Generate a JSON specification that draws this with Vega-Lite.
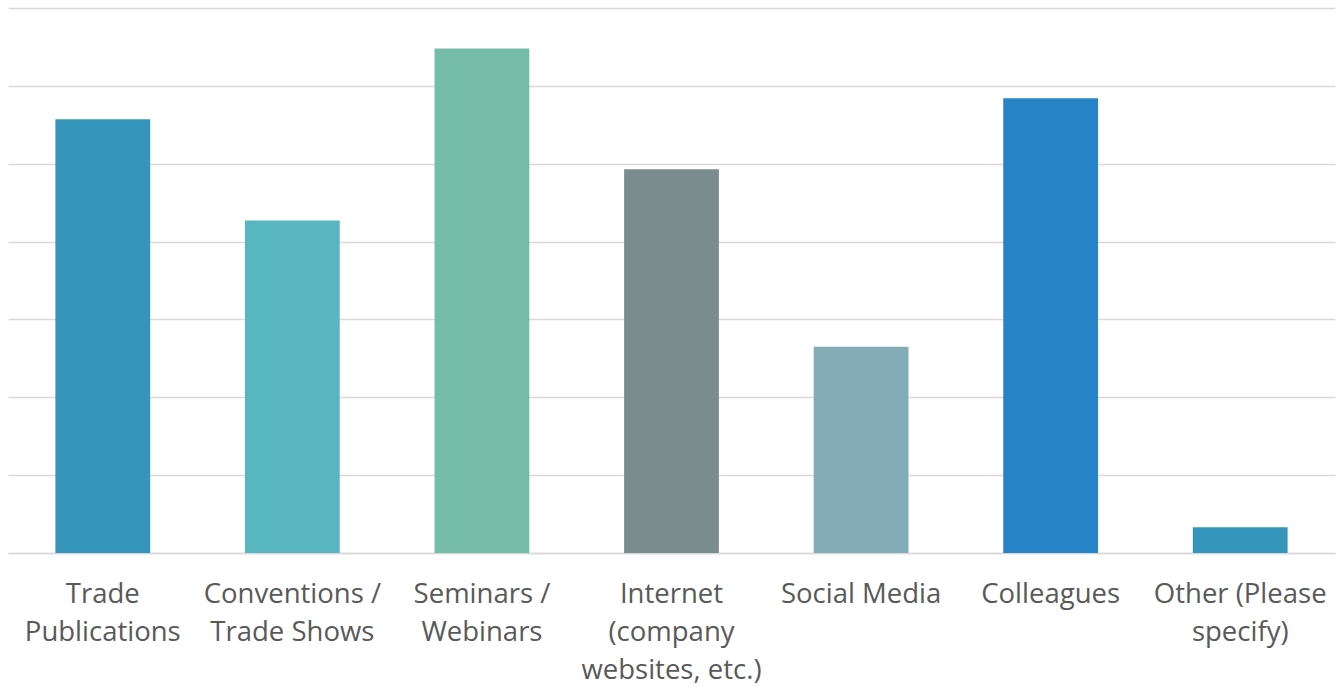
{
  "$schema": "https://vega.github.io/schema/vega-lite/v6.json",
  "autosize": {"type": "none"},
  "width": 1327,
  "height": 545,
  "padding": {"left": 8, "top": 8, "right": 5, "bottom": 134},
  "background": "#ffffff",
  "config": {"view": {"stroke": null}},
  "data": {"values": [
    {"label": "Trade|Publications", "value": 55.7},
    {"label": "Conventions /|Trade Shows", "value": 42.7},
    {"label": "Seminars /|Webinars", "value": 64.8},
    {"label": "Internet|(company|websites, etc.)", "value": 49.3},
    {"label": "Social Media", "value": 26.5},
    {"label": "Colleagues", "value": 58.4},
    {"label": "Other (Please|specify)", "value": 3.3}
  ]},
  "mark": {"type": "bar"},
  "encoding": {
    "x": {
      "field": "label", "type": "nominal", "sort": null,
      "scale": {"paddingInner": 0.5, "paddingOuter": 0.25},
      "axis": {
        "title": null, "labelAngle": 0, "ticks": false,
        "domainColor": "#d9d9d9", "domainWidth": 1.5,
        "labelExpr": "split(datum.label, '|')",
        "labelFont": "Open Sans", "labelFontSize": 27.5, "labelColor": "#595959",
        "labelLineHeight": 38, "labelPadding": 27, "labelBaseline": "top",
        "labelLimit": 0
      }
    },
    "y": {
      "field": "value", "type": "quantitative",
      "scale": {"domain": [0, 70]},
      "axis": {
        "title": null, "labels": false, "ticks": false, "domain": false,
        "values": [0, 10, 20, 30, 40, 50, 60, 70],
        "gridColor": "#d9d9d9", "gridWidth": 1.5
      }
    },
    "color": {
      "field": "label", "type": "nominal", "legend": null,
      "scale": {
        "domain": ["Trade|Publications", "Conventions /|Trade Shows", "Seminars /|Webinars", "Internet|(company|websites, etc.)", "Social Media", "Colleagues", "Other (Please|specify)"],
        "range": ["#3494BA", "#58B6C0", "#75BDA7", "#7A8C8E", "#84ACB6", "#2683C6", "#3494BA"]
      }
    }
  }
}
